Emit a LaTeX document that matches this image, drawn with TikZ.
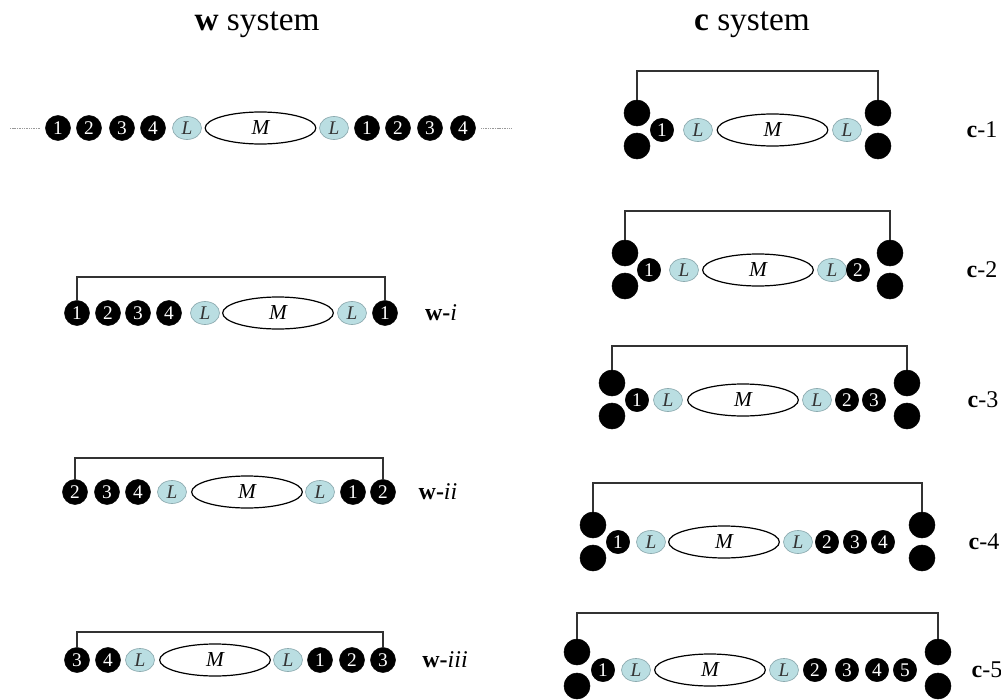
\documentclass[tikz,border=0pt]{standalone}
\usepackage{fontspec}
\setmainfont{Liberation Serif}
\usetikzlibrary{shapes.geometric}
\definecolor{lblue}{RGB}{186,222,226}
\definecolor{lborder}{RGB}{140,170,175}
\definecolor{brk}{RGB}{50,50,50}
\tikzset{
  num/.style={circle,fill=black,draw=black,inner sep=0pt,minimum size=18.75pt,text=white,font=\fontsize{14.5}{14.5}\selectfont},
  cnum/.style={num,minimum size=17.5pt},
  big/.style={circle,fill=black,draw=black,inner sep=0pt,minimum size=19.5pt},
  lig/.style={ellipse,fill=lblue,draw=lborder,line width=0.5pt,inner sep=0pt,minimum width=21.75pt,minimum height=17.25pt,font=\fontsize{14.5}{14.5}\selectfont\itshape,text=black!80},
  met/.style={ellipse,draw=black,line width=0.9pt,inner sep=0pt,minimum width=83pt,minimum height=24pt,font=\fontsize{16}{16}\selectfont\itshape},
  bracket/.style={draw=brk,line width=0.8pt},
  dotl/.style={draw=gray!80,line width=0.5pt,dash pattern=on 0.8pt off 0.5pt},
  lab/.style={font=\fontsize{18}{18}\selectfont,anchor=center},
  title/.style={font=\fontsize{25}{25}\selectfont}
}
\begin{document}
\begin{tikzpicture}[x=0.75pt,y=-0.75pt]
\useasboundingbox (0,0) rectangle (1001,700);
% titles
\node[title] (tw) at (257,25) {\textbf{w} system};
\node[title] (tc) at (752,25) {\textbf{c} system};

% ===== top row (w system chain)
\def\ry{128}
\node[num] (t1) at (58,\ry) {1};
\node[num] (t2) at (89,\ry) {2};
\node[num] (t3) at (122,\ry) {3};
\node[num] (t4) at (153,\ry) {4};
\node[lig] (tL1) at (187,\ry) {L};
\node[met] (tM) at (260.5,\ry) {M};
\node[lig] (tL2) at (334,\ry) {L};
\node[num] (t5) at (367,\ry) {1};
\node[num] (t6) at (398,\ry) {2};
\node[num] (t7) at (430,\ry) {3};
\node[num] (t8) at (463,\ry) {4};
\coordinate (dl) at (10,\ry);
\coordinate (dr) at (512,\ry);
\draw[dotl] (dl) -- ([xshift=-4pt]t1.west);
\draw[dotl] ([xshift=4pt]t8.east) -- (dr);

% ===== w-i
\def\ry{313}
\node[num] (a1) at (77,\ry) {1};
\node[num] (a2) at (108,\ry) {2};
\node[num] (a3) at (138,\ry) {3};
\node[num] (a4) at (169,\ry) {4};
\node[lig] (aL1) at (205,\ry) {L};
\node[met] (aM) at (278,\ry) {M};
\node[lig] (aL2) at (352,\ry) {L};
\node[num] (a5) at (385,\ry) {1};
\node[lab] (aT) at (441,\ry) {\textbf{w-}\textit{i}};
\draw[bracket] (a1.north) -- (a1.north |- 0,277) -| (a5.north);

% ===== w-ii
\def\ry{492}
\node[num] (b1) at (75,\ry) {2};
\node[num] (b2) at (107,\ry) {3};
\node[num] (b3) at (138,\ry) {4};
\node[lig] (bL1) at (172,\ry) {L};
\node[met] (bM) at (247,\ry) {M};
\node[lig] (bL2) at (320,\ry) {L};
\node[num] (b4) at (353,\ry) {1};
\node[num] (b5) at (383,\ry) {2};
\node[lab] (bT) at (438,\ry) {\textbf{w-}\textit{ii}};
\draw[bracket] (b1.north) -- (b1.north |- 0,458) -| (b5.north);

% ===== w-iii
\def\ry{660}
\node[num] (d1) at (77,\ry) {3};
\node[num] (d2) at (108,\ry) {4};
\node[lig] (dL1) at (140,\ry) {L};
\node[met] (dM) at (215,\ry) {M};
\node[lig] (dL2) at (288,\ry) {L};
\node[num] (d3) at (320,\ry) {1};
\node[num] (d4) at (352,\ry) {2};
\node[num] (d5) at (383,\ry) {3};
\node[lab] (dT) at (445,\ry) {\textbf{w-}\textit{iii}};
\draw[bracket] (d1.north) -- (d1.north |- 0,632) -| (d5.north);

% ===== c-1
\def\ry{130}
\node[big] (e0a) at (637,\ry-17) {};
\node[big] (e0b) at (637,\ry+16) {};
\node[cnum] (e1) at (662,\ry) {1};
\node[lig] (eL1) at (698,\ry) {L};
\node[met] (eM) at (772.5,\ry) {M};
\node[lig] (eL2) at (847,\ry) {L};
\node[big] (e9a) at (878,\ry-17) {};
\node[big] (e9b) at (878,\ry+16) {};
\node[lab] (eT) at (982,\ry) {\textbf{c}-1};
\draw[bracket] (e0a.north) -- (e0a.north |- 0,71) -| (e9a.north);

% ===== c-2
\def\ry{270}
\node[big] (f0a) at (625,\ry-17) {};
\node[big] (f0b) at (625,\ry+16) {};
\node[cnum] (f1) at (649,\ry) {1};
\node[lig] (fL1) at (684,\ry) {L};
\node[met] (fM) at (758,\ry) {M};
\node[lig] (fL2) at (832,\ry) {L};
\node[cnum] (f2) at (858,\ry) {2};
\node[big] (f9a) at (890,\ry-17) {};
\node[big] (f9b) at (890,\ry+16) {};
\node[lab] (fT) at (982,\ry) {\textbf{c}-2};
\draw[bracket] (f0a.north) -- (f0a.north |- 0,211) -| (f9a.north);

% ===== c-3
\def\ry{400}
\node[big] (g0a) at (612,\ry-17) {};
\node[big] (g0b) at (612,\ry+16) {};
\node[cnum] (g1) at (637,\ry) {1};
\node[lig] (gL1) at (668,\ry) {L};
\node[met] (gM) at (743,\ry) {M};
\node[lig] (gL2) at (817,\ry) {L};
\node[cnum] (g2) at (847,\ry) {2};
\node[cnum] (g3) at (874,\ry) {3};
\node[big] (g9a) at (907,\ry-17) {};
\node[big] (g9b) at (907,\ry+16) {};
\node[lab] (gT) at (983,\ry) {\textbf{c}-3};
\draw[bracket] (g0a.north) -- (g0a.north |- 0,346) -| (g9a.north);

% ===== c-4
\def\ry{542}
\node[big] (h0a) at (593,\ry-17) {};
\node[big] (h0b) at (593,\ry+16) {};
\node[cnum] (h1) at (618,\ry) {1};
\node[lig] (hL1) at (651,\ry) {L};
\node[met] (hM) at (724,\ry) {M};
\node[lig] (hL2) at (798,\ry) {L};
\node[cnum] (h2) at (827,\ry) {2};
\node[cnum] (h3) at (855,\ry) {3};
\node[cnum] (h4) at (883,\ry) {4};
\node[big] (h9a) at (922,\ry-17) {};
\node[big] (h9b) at (922,\ry+16) {};
\node[lab] (hT) at (984,\ry) {\textbf{c}-4};
\draw[bracket] (h0a.north) -- (h0a.north |- 0,483) -| (h9a.north);

% ===== c-5
\def\ry{670}
\node[big] (k0a) at (577,\ry-18) {};
\node[big] (k0b) at (577,\ry+16) {};
\node[cnum] (k1) at (603,\ry) {1};
\node[lig] (kL1) at (636,\ry) {L};
\node[met] (kM) at (710,\ry) {M};
\node[lig] (kL2) at (784,\ry) {L};
\node[cnum] (k2) at (815,\ry) {2};
\node[cnum] (k3) at (847,\ry) {3};
\node[cnum] (k4) at (877,\ry) {4};
\node[cnum] (k5) at (905,\ry) {5};
\node[big] (k9a) at (938,\ry-18) {};
\node[big] (k9b) at (938,\ry+16) {};
\node[lab] (kT) at (987,\ry) {\textbf{c}-5};
\draw[bracket] (k0a.north) -- (k0a.north |- 0,613) -| (k9a.north);
\end{tikzpicture}
\end{document}
